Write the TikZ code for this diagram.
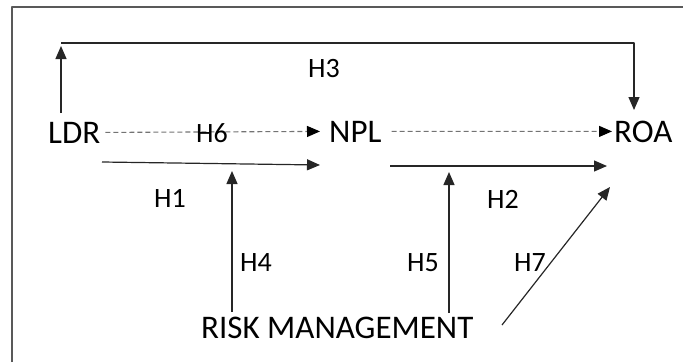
\documentclass[tikz,border=0pt]{standalone}
\usepackage{fontspec}
\setmainfont{Carlito}
\usetikzlibrary{arrows.meta}
\begin{document}
\begin{tikzpicture}[x=1pt, y=-1pt, line join=round, >={Triangle[length=13pt,width=11pt]},
    var/.style={inner sep=0pt, anchor=base west, font=\fontsize{33}{33}\selectfont},
    hyp/.style={inner sep=0pt, anchor=base west, font=\fontsize{28}{28}\selectfont},
    link/.style={line width=1.2pt, black!85},
    guess/.style={line width=1.1pt, black!55, dash pattern=on 5pt off 3pt,
        -{Triangle[length=13pt,width=11pt,black]}}]
    \useasboundingbox (0,0) rectangle (683,362);
    \draw[gray!70!black, line width=1.5pt] (12,362)--(12,7)--(683,7);
    % variables
    \node[var] (LDR) at (48,143) {LDR};
    \node[var] (NPL) at (329,142) {NPL};
    \node[var] (ROA) at (614,142) {ROA};
    \node[var] (RM) at (201,338) {RISK MANAGEMENT};
    % arrow ends
    \coordinate (h3a) at (61,113); \coordinate (h3b) at (61,46);
    \coordinate (h3c) at (61,43); \coordinate (h3d) at (634,43); \coordinate (h3e) at (634,110);
    \coordinate (h1a) at (102,162); \coordinate (h1b) at (320,165);
    \coordinate (h2a) at (390,166); \coordinate (h2b) at (607,166);
    \coordinate (h4a) at (232,312); \coordinate (h4b) at (232,171);
    \coordinate (h5a) at (449,313); \coordinate (h5b) at (449,172);
    \coordinate (h7a) at (502,325); \coordinate (h7b) at (610,187);
    % connectors
    \draw[link,->] (h3a)--(h3b);
    \draw[link,->] (h3c)--(h3d)--(h3e);
    \draw[guess] ([xshift=5pt]LDR.east)--([xshift=-9pt]NPL.west);
    \draw[guess] ([xshift=10pt]NPL.east)--([xshift=-2pt]ROA.west);
    \draw[link,->] (h1a)--(h1b);
    \draw[link,->] (h2a)--(h2b);
    \draw[link,->] (h4a)--(h4b);
    \draw[link,->] (h5a)--(h5b);
    \draw[link,->] (h7a)--(h7b);
    % labels
    \node[hyp] (H1) at (154,207) {H1};
    \node[hyp] (H2) at (487,208) {H2};
    \node[hyp] (H3) at (308,77) {H3};
    \node[hyp] (H4) at (240,271) {H4};
    \node[hyp] (H5) at (407,271) {H5};
    \node[hyp] (H6) at (196,142) {H6};
    \node[hyp] (H7) at (514,271) {H7};
\end{tikzpicture}
\end{document}
